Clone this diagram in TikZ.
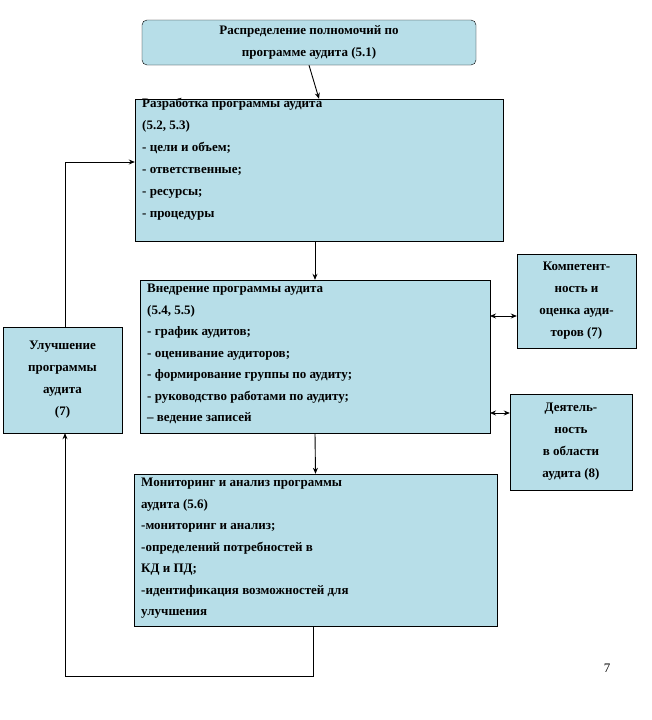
\documentclass[tikz,border=0pt]{standalone}
\usepackage{fontspec}
\setmainfont{Liberation Serif}
\usetikzlibrary{arrows.meta}
\definecolor{boxfill}{HTML}{B7DEE8}
\begin{document}
\begin{tikzpicture}[x=1pt,y=-1pt,
  bx/.style={draw=black,fill=boxfill,inner sep=0pt,font=\bfseries\fontsize{13}{22}\selectfont},
  arr/.style={-{Stealth[length=6pt,width=5pt]},line width=0.9pt},
  darr/.style={{Stealth[length=6pt,width=5pt]}-{Stealth[length=6pt,width=5pt]},line width=0.8pt}]
\useasboundingbox[fill=white] (0,0) rectangle (652,720);
\node[bx,rounded corners=5pt,minimum width=334pt,minimum height=45pt,align=center] (b1) at (309,42.5)
  {Распределение полномочий по\\программе аудита (5.1)};
\node[bx,minimum width=368pt,minimum height=142pt] (b2) at (319,170) {};
\node[anchor=north west,align=left,font=\bfseries\fontsize{13}{22}\selectfont,inner sep=0pt] at (142,98)
  {Разработка программы аудита\\(5.2, 5.3)\\- цели и объем;\\- ответственные;\\- ресурсы;\\- процедуры};
\node[bx,minimum width=350pt,minimum height=153pt] (b3) at (315,356.5) {};
\node[anchor=north west,align=left,font=\bfseries\fontsize{13}{21.5}\selectfont,inner sep=0pt] at (147,284)
  {Внедрение программы аудита\\(5.4, 5.5)\\- график аудитов;\\- оценивание аудиторов;\\- формирование группы по аудиту;\\- руководство работами по аудиту;\\-- ведение записей};
\node[bx,minimum width=363pt,minimum height=152pt] (b4) at (315.5,550) {};
\node[anchor=north west,align=left,font=\bfseries\fontsize{13}{21.5}\selectfont,inner sep=0pt] at (141,478)
  {Мониторинг и анализ программы\\аудита (5.6)\\-мониторинг и анализ;\\-определений потребностей в\\КД и ПД;\\-идентификация возможностей для\\улучшения};
\node[bx,minimum width=119pt,minimum height=106pt,align=center] (l) at (62.5,380)
  {Улучшение\\программы\\аудита\\(7)};
\node[bx,minimum width=119pt,minimum height=94pt,align=center] (r1) at (576.5,301)
  {Компетент-\\ность и\\оценка ауди-\\торов (7)};
\node[bx,minimum width=122pt,minimum height=96pt,align=center] (r2) at (571,442)
  {Деятель-\\ность\\в области\\аудита (8)};
\draw[arr] (b1.south) -- (b2.north);
\draw[arr] (b2.south -| b3.north) -- (b3.north);
\draw[arr] (b3.south) -- (b4.north);
\coordinate (c1) at (313,676);
\coordinate (c2) at (65,676);
\draw[arr] (313,626) -- (c1) -- (c2) -- (l.south -| c2);
\coordinate (c3) at (65,162);
\draw[arr] (l.north -| c3) -- (c3) -- (b2.west |- c3);
\draw[darr] (490,316) -- (r1.west |- 0,316);
\draw[darr] (490,413) -- (r2.west |- 0,413);
\node[font=\fontsize{13}{15}\selectfont] (pg) at (607,668) {7};
\end{tikzpicture}
\end{document}
